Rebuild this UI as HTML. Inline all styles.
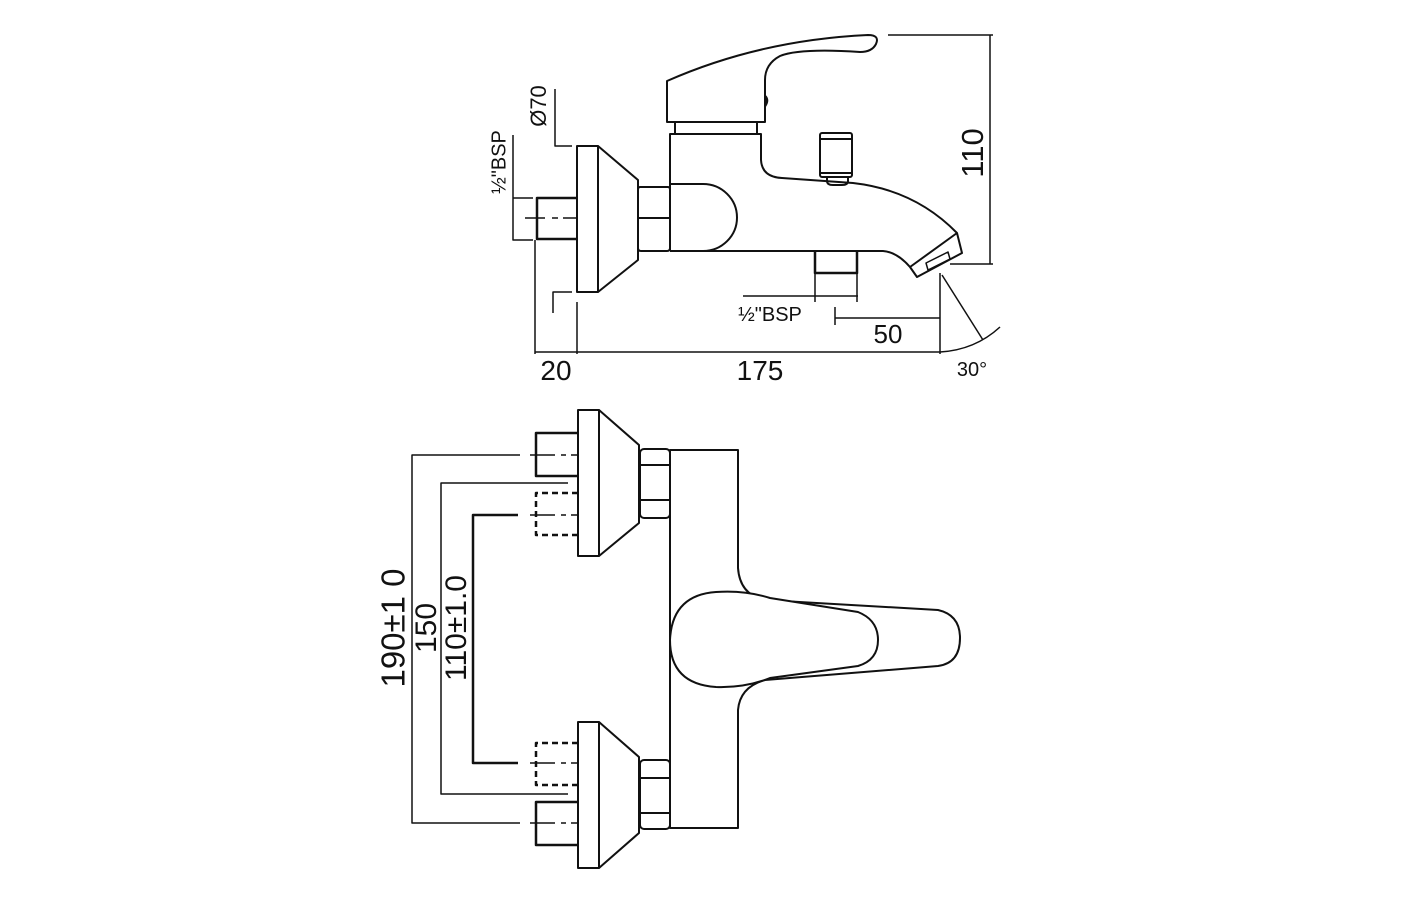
<!DOCTYPE html>
<html><head><meta charset="utf-8"><style>
html,body{margin:0;padding:0;background:#fff;}
svg{display:block;}
text{font-family:"Liberation Sans",sans-serif;fill:#111;}
</style></head><body>
<svg width="1420" height="900" viewBox="0 0 1420 900" xmlns="http://www.w3.org/2000/svg">
<g fill="none" stroke="#111" stroke-width="2" stroke-linejoin="round">
<!-- ===== TOP VIEW ===== -->
<rect x="577" y="146" width="21" height="146"/>
<path d="M598,146 L638,180 L638,260 L598,292"/>
<path d="M640,187 H668 Q670,187 670,190 V248 Q670,251 667,251 H641 Q638,251 638,248 V190 Q638,187 640,187 Z"/>
<line x1="638" y1="218" x2="670" y2="218"/>
<path d="M577,198 H537 V239 H577" stroke-width="2.5"/>
<line x1="525" y1="218" x2="545" y2="218" stroke-width="1.5"/>
<line x1="552" y1="218" x2="558" y2="218" stroke-width="1.5"/>
<line x1="563" y1="218" x2="577" y2="218" stroke-width="1.5"/>
<path d="M670,251 V134 H761 V160 Q762,177 782,178 L853,183 Q915,190 957,233"/>
<path d="M670,251 H883 Q897,252 910,267"/>
<path d="M670,184 H703 A34,33.5 0 0 1 703,251"/>
<path d="M910,267 L917,277 L962,253 L957,233 Z"/>
<path d="M926,263 L928,270 L950,259 L948,252 Z" stroke-width="1.5"/>
<rect x="675" y="122" width="82" height="12"/>
<path d="M667,122 V81 Q760,40 868,35 Q880,35 876,44 Q872,52 860,52 Q800,48 780,56 Q765,64 765,80 V122 Z"/>
<path d="M765,96 Q769,100 765,106" stroke-width="2.5"/>
<rect x="820" y="133" width="32" height="44" rx="2"/>
<line x1="820" y1="139" x2="852" y2="139"/>
<line x1="820" y1="173" x2="852" y2="173"/>
<path d="M827,177 V181 Q827,185 833,185 H842 Q848,185 848,181 V177"/>
<path d="M815,251 V273 H857 V251" stroke-width="2.5"/>
<line x1="888" y1="35" x2="993" y2="35" stroke-width="1.5"/>
<line x1="990" y1="35" x2="990" y2="264" stroke-width="1.5"/>
<line x1="950" y1="264" x2="993" y2="264" stroke-width="1.5"/>
<line x1="577" y1="352" x2="940" y2="352" stroke-width="1.5"/>
<line x1="577" y1="302" x2="577" y2="354" stroke-width="1.5"/>
<line x1="940" y1="273" x2="940" y2="354" stroke-width="1.5"/>
<line x1="535" y1="240" x2="535" y2="354" stroke-width="1.5"/>
<line x1="535" y1="352" x2="577" y2="352" stroke-width="1.5"/>
<path d="M553,313 V292 H572" stroke-width="1.5"/>
<path d="M555,89 V146 H572" stroke-width="1.5"/>
<path d="M513,135 V240 H533 M513,198 H533" stroke-width="1.5"/>
<line x1="743" y1="296" x2="858" y2="296" stroke-width="1.5"/>
<line x1="815" y1="273" x2="815" y2="302" stroke-width="1.5"/>
<line x1="857" y1="273" x2="857" y2="302" stroke-width="1.5"/>
<line x1="835" y1="318" x2="940" y2="318" stroke-width="1.5"/>
<line x1="835" y1="307" x2="835" y2="325" stroke-width="1.5"/>
<line x1="942" y1="275" x2="983" y2="340" stroke-width="1.5"/>
<path d="M940,352 Q975,350 1000,327" stroke-width="1.5"/>

<!-- ===== BOTTOM VIEW ===== -->
<rect x="578" y="410" width="21" height="146"/>
<path d="M599,410 L639,445 L639,523 L599,556"/>
<rect x="640" y="449" width="30" height="69" rx="4"/>
<line x1="640" y1="465" x2="670" y2="465"/>
<line x1="640" y1="500" x2="670" y2="500"/>
<path d="M578,433 H536 V476 H578" stroke-width="2.5"/>
<path d="M578,493 H536 V535 H578" stroke-width="2.5" stroke-dasharray="6,4"/>
<rect x="578" y="722" width="21" height="146"/>
<path d="M599,868 L639,833 L639,757 L599,722"/>
<rect x="640" y="760" width="30" height="69" rx="4"/>
<line x1="640" y1="778" x2="670" y2="778"/>
<line x1="640" y1="813" x2="670" y2="813"/>
<path d="M578,802 H536 V845 H578" stroke-width="2.5"/>
<path d="M578,743 H536 V785 H578" stroke-width="2.5" stroke-dasharray="6,4"/>
<g stroke-width="1.5">
<path d="M530,455 H555 M561,455 H566 M571,455 H578"/>
<path d="M530,515 H555 M561,515 H566 M571,515 H578"/>
<path d="M530,763 H555 M561,763 H566 M571,763 H578"/>
<path d="M530,823 H555 M561,823 H566 M571,823 H578"/>
</g>
<path d="M670,450 H738 V568 Q740,595 765,600 L938,610 Q960,615 960,638 Q960,663 938,666 L765,680 Q740,687 738,710 V828 H670 Z"/>
<path d="M716,592 Q745,590 770,598 L858,612 Q878,620 878,640 Q878,660 858,666 L770,678 Q745,688 716,687 Q670,684 670,640 Q672,595 716,592 Z" fill="#fff"/>
<g stroke-width="1.5">
<path d="M520,455 H412 V823 H520"/>
<path d="M568,483 H441 V794 H568"/>
</g>
<path d="M518,515 H473 V763 H518" stroke-width="2.5"/>
</g>

<text x="975" y="153" font-size="31" text-anchor="middle" transform="rotate(-90 975 153)" dominant-baseline="middle">110</text>
<text x="556" y="380" font-size="28" text-anchor="middle">20</text>
<text x="760" y="380" font-size="28" text-anchor="middle">175</text>
<text x="888" y="343" font-size="26" text-anchor="middle">50</text>
<text x="972" y="376" font-size="20" text-anchor="middle">30°</text>
<text x="770" y="321" font-size="20" text-anchor="middle">½"BSP</text>
<text x="540" y="106" font-size="22" text-anchor="middle" transform="rotate(-90 540 106)" dominant-baseline="middle">Ø70</text>
<text x="500" y="162" font-size="20" text-anchor="middle" transform="rotate(-90 500 162)" dominant-baseline="middle">½"BSP</text>
<text x="396" y="628" font-size="33" text-anchor="middle" transform="rotate(-90 396 628)" dominant-baseline="middle">190±1 0</text>
<text x="428" y="628" font-size="30" text-anchor="middle" transform="rotate(-90 428 628)" dominant-baseline="middle">150</text>
<text x="458" y="628" font-size="30" text-anchor="middle" transform="rotate(-90 458 628)" dominant-baseline="middle">110±1.0</text>
</svg>
</body></html>
